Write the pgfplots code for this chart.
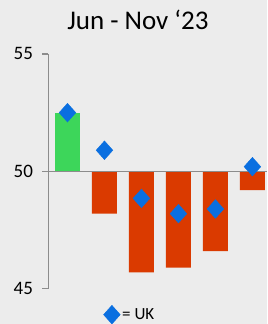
\documentclass[border=0pt]{standalone}
\usepackage{pgfplots}
\pgfplotsset{compat=1.18}
\usepackage{fontspec}
\setmainfont{Carlito}
\definecolor{bg}{HTML}{ECECEC}
\definecolor{barG}{HTML}{3DD65A}
\definecolor{barR}{HTML}{DA3A00}
\definecolor{ukB}{HTML}{0A6FE0}
\definecolor{axG}{HTML}{8C8C8C}
\begin{document}
\begin{tikzpicture}[x=1bp,y=1bp]
\fill[bg] (0,0) rectangle (267,324);
\node[font=\fontsize{27bp}{30bp}\selectfont, anchor=base, inner sep=0pt] at (138,294.7) {Jun - Nov ‘23};
\begin{axis}[
  at={(48.5bp,35bp)}, anchor=south west, scale only axis,
  width=218.5bp, height=235bp,
  xmin=-0.514, xmax=5.39, ymin=-5, ymax=5,
  y filter/.expression={y-50},
  axis x line=none, axis y line*=left,
  axis line style={axG, line width=1.3bp},
  ytick={-5,0,5}, yticklabels={45,50,55},
  tick align=outside, major tick length=6bp,
  ytick style={axG, line width=1.3bp},
  yticklabel style={font=\fontsize{19bp}{22bp}\selectfont, xshift=-6bp},
  clip=false,
  legend style={at={(0.373,-0.11)}, anchor=center, draw=none, fill=none,
    font=\fontsize{17bp}{20bp}\selectfont, inner sep=0pt},
]
\addplot[ybar, bar width=25bp, bar shift=0pt, fill=barG, draw=none, forget plot] coordinates {(0,52.5)};
\addplot[ybar, bar width=25bp, bar shift=0pt, fill=barR, draw=none, forget plot] coordinates {(1,48.2) (2,45.7) (3,45.9) (4,46.6) (5,49.2)};
\draw[axG, line width=1.5bp] (rel axis cs:0,0.5) -- (rel axis cs:1,0.5);
\addplot[only marks, mark=square*, mark size=5.9bp, mark options={fill=ukB, draw=ukB, yscale=1.12, rotate=45}] coordinates {(0,52.5) (1,50.9) (2,48.85) (3,48.2) (4,48.4) (5,50.2)};
\addlegendentry{= UK}
\end{axis}
\end{tikzpicture}
\end{document}
